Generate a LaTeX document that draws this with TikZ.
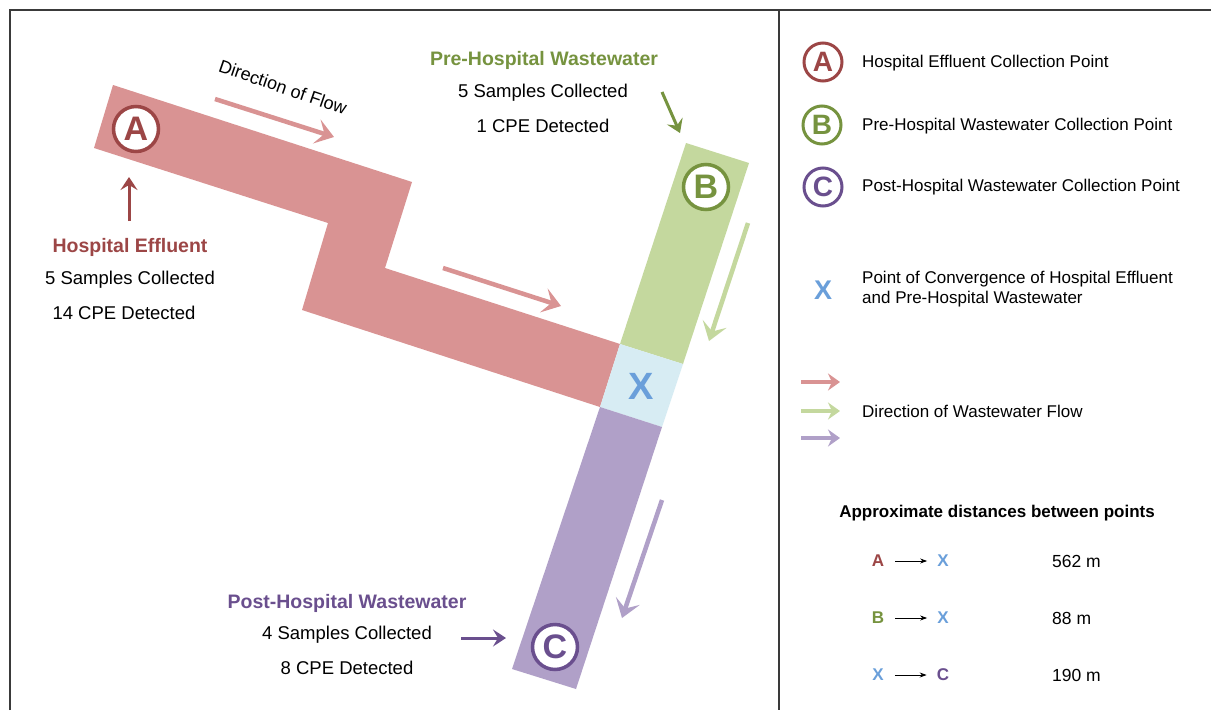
\documentclass[tikz,border=0pt]{standalone}
\usepackage{fontspec}
\setmainfont{Liberation Sans}
\usetikzlibrary{arrows.meta}
\definecolor{pipeA}{HTML}{D99393}
\definecolor{darkA}{HTML}{9C4646}
\definecolor{pipeB}{HTML}{C4D89E}
\definecolor{darkB}{HTML}{76933F}
\definecolor{pipeC}{HTML}{B0A0C8}
\definecolor{darkC}{HTML}{6A4F8E}
\definecolor{pipeX}{HTML}{D7ECF3}
\definecolor{blueX}{HTML}{6A9FDA}
\definecolor{framecol}{HTML}{3A3A3A}
\begin{document}
\begin{tikzpicture}[x=1pt,y=-1pt,
  lbl/.style={font=\fontsize{18.5}{20}\selectfont, inner sep=0pt},
  ttl/.style={font=\bfseries\fontsize{19.5}{20}\selectfont, inner sep=0pt},
  leg/.style={font=\fontsize{17}{20}\selectfont, anchor=west, inner sep=0pt, align=left},
  ptcirc/.style={circle, draw=#1, fill=white, line width=3.5pt, minimum size=45pt, inner sep=0pt, text=#1, font=\bfseries\fontsize{34}{34}\selectfont},
  legcirc/.style={circle, draw=#1, fill=white, line width=3pt, minimum size=38pt, inner sep=0pt, text=#1, font=\bfseries\fontsize{28}{28}\selectfont},
  bigflow/.style={draw=#1, line width=4.5pt, -{Stealth[length=18pt,width=25pt,inset=8pt]}},
  smallflow/.style={draw=#1, line width=3pt, -{Stealth[length=13pt,width=17pt,inset=5pt]}},
  legflow/.style={draw=#1, line width=3.5pt, -{Stealth[length=12pt,width=17pt,inset=4pt]}},
  distl/.style={font=\bfseries\fontsize{17}{20}\selectfont, inner sep=0pt, text=#1},
  distv/.style={font=\fontsize{17.5}{20}\selectfont, inner sep=0pt, anchor=west},
  tinyarrow/.style={draw=black, line width=0.9pt, -{Stealth[length=7pt,width=5pt]}, shorten <=11pt, shorten >=10pt}
]
\useasboundingbox (0,0) rectangle (1211,710);
\fill[white] (0,0) rectangle (1211,710);

% frame
\draw[framecol, line width=1.6pt] (10,710) -- (10,10) -- (1211,10);
\draw[framecol, line width=1.6pt] (779,10) -- (779,710);

% pipes
\fill[pipeA] (113,85) -- (412,182) -- (385,268) -- (620,344) -- (600,407) -- (302,310) -- (328,223) -- (94,148) -- cycle;
\fill[pipeB] (686,143) -- (749,163) -- (683,364) -- (620,344) -- cycle;
\fill[pipeX] (620,344) -- (683,364) -- (662,427) -- (600,407) -- cycle;
\fill[pipeC] (600,407) -- (662,427) -- (576,689) -- (512,669) -- cycle;

% points on pipes
\node[ptcirc=darkA] (pA) at (136,129) {A};
\node[ptcirc=darkB] (pB) at (706,187) {B};
\node[ptcirc=darkC] (pC) at (555,647) {C};
\node[font=\bfseries\fontsize{38}{38}\selectfont, text=blueX, inner sep=0pt] (pX) at (641,386) {X};

% flow arrows
\coordinate (fa1s) at (215,99);  \coordinate (fa1e) at (334,137);
\coordinate (fa2s) at (443,268); \coordinate (fa2e) at (561,306);
\coordinate (fbs) at (748,223);  \coordinate (fbe) at (709,341);
\coordinate (fcs) at (662,500);  \coordinate (fce) at (622,618);
\draw[bigflow=pipeA] (fa1s) -- (fa1e);
\draw[bigflow=pipeA] (fa2s) -- (fa2e);
\draw[bigflow=pipeB] (fbs) -- (fbe);
\draw[bigflow=pipeC] (fcs) -- (fce);

\node[font=\fontsize{18}{20}\selectfont, rotate=-19, inner sep=0pt] (dirflow) at (283,87) {Direction of Flow};

% labels: hospital effluent
\coordinate (ua) at (129,221); \coordinate (ub) at (129,177);
\draw[smallflow=darkA] (ua) -- (ub);
\node[ttl, text=darkA] (heT) at (130,247) {Hospital Effluent};
\node[lbl] (he1) at (130,280) {5 Samples Collected};
\node[lbl] (he2) at (124,313) {14 CPE Detected};

% pre-hospital
\node[ttl, text=darkB] (phT) at (544,60) {Pre-Hospital Wastewater};
\node[lbl] (ph1) at (543,93) {5 Samples Collected};
\node[lbl] (ph2) at (543,126) {1 CPE Detected};
\coordinate (gbs) at (662,92); \coordinate (gbe) at (680,133);
\draw[smallflow=darkB] (gbs) -- (gbe);

% post-hospital
\node[ttl, text=darkC] (poT) at (347,603) {Post-Hospital Wastewater};
\node[lbl] (po1) at (347,635) {4 Samples Collected};
\node[lbl] (po2) at (347,668) {8 CPE Detected};
\coordinate (pcs) at (461,638); \coordinate (pce) at (506,638);
\draw[smallflow=darkC] (pcs) -- (pce);

% legend
\node[legcirc=darkA] (lA) at (823,62) {A};
\node[legcirc=darkB] (lB) at (822,125) {B};
\node[legcirc=darkC] (lC) at (823,187) {C};
\node[leg] (tA) at (862,63) {Hospital Effluent Collection Point};
\node[leg] (tB) at (862,126) {Pre-Hospital Wastewater Collection Point};
\node[leg] (tC) at (862,187) {Post-Hospital Wastewater Collection Point};
\node[font=\bfseries\fontsize{27}{27}\selectfont, text=blueX, inner sep=0pt] (lX) at (823,290) {X};
\node[leg] (tX) at (862,289) {Point of Convergence of Hospital Effluent\\and Pre-Hospital Wastewater};

\coordinate (l1s) at (801,382); \coordinate (l1e) at (840,382);
\coordinate (l2s) at (801,411); \coordinate (l2e) at (840,411);
\coordinate (l3s) at (801,438); \coordinate (l3e) at (840,438);
\draw[legflow=pipeA] (l1s) -- (l1e);
\draw[legflow=pipeB] (l2s) -- (l2e);
\draw[legflow=pipeC] (l3s) -- (l3e);
\node[leg] (tF) at (862,411) {Direction of Wastewater Flow};

\node[font=\bfseries\fontsize{17}{20}\selectfont, inner sep=0pt] (dT) at (997,513) {Approximate distances between points};

\node[distl=darkA] (d1a) at (878,561) {A};
\node[distl=blueX] (d1b) at (943,561) {X};
\draw[tinyarrow] (d1a) -- (d1b);
\node[distv] (d1v) at (1052,561) {562 m};

\node[distl=darkB] (d2a) at (878,618) {B};
\node[distl=blueX] (d2b) at (943,618) {X};
\draw[tinyarrow] (d2a) -- (d2b);
\node[distv] (d2v) at (1052,618) {88 m};

\node[distl=blueX] (d3a) at (878,675) {X};
\node[distl=darkC] (d3b) at (943,675) {C};
\draw[tinyarrow] (d3a) -- (d3b);
\node[distv] (d3v) at (1052,675) {190 m};
\end{tikzpicture}
\end{document}
